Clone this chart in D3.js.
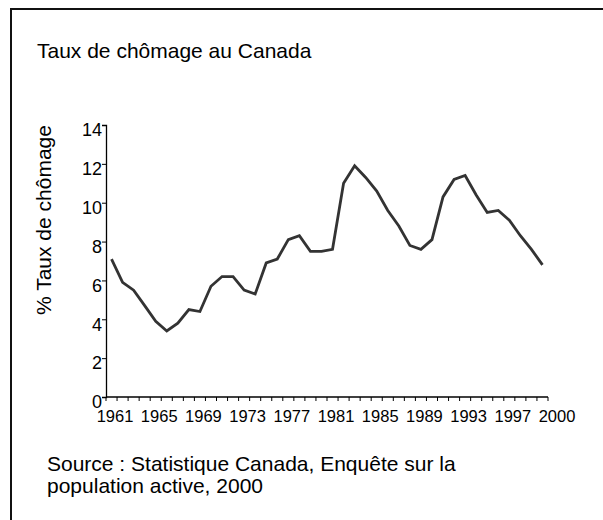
<!DOCTYPE html>
<html>
<head>
<meta charset="utf-8">
<script src="https://cdn.jsdelivr.net/npm/d3@7"></script>
<style>
  body { margin: 0; background: #fff; }
  text { font-family: "Liberation Sans", Arial, sans-serif; fill: #000; }
</style>
</head>
<body>
<script>
// data
var years = d3.range(1961, 2001);
var rates = [7.1, 5.9, 5.5, 4.7, 3.9, 3.4, 3.8, 4.5, 4.4, 5.7,
             6.2, 6.2, 5.5, 5.3, 6.9, 7.1, 8.1, 8.3, 7.5, 7.5,
             7.6, 11.0, 11.9, 11.3, 10.6, 9.6, 8.8, 7.8, 7.6, 8.1,
             10.3, 11.2, 11.4, 10.4, 9.5, 9.6, 9.1, 8.3, 7.6, 6.8];
var y_ticks = [0, 2, 4, 6, 8, 10, 12, 14];
var x_tick_labels = ['1961', '1965', '1969', '1973', '1977', '1981', '1985', '1989', '1993', '1997', '2000'];

var title = 'Taux de chômage au Canada';
var y_title = '% Taux de chômage';
var source_lines = ['Source : Statistique Canada, Enquête sur la', 'population active, 2000'];

var width = 603, height = 520;
var svg = d3.select('body').append('svg').attr('width', width).attr('height', height);

// frame (only top and left edges show in the picture)
svg.append('path').attr('d', 'M11,520 V9 H603')
   .attr('fill', 'none').attr('stroke', '#111').attr('stroke-width', 2);

svg.append('text').attr('x', 37).attr('y', 58).attr('font-size', 21).text(title);

// plot area bounds (not "top": that name is taken by window.top)
var p_left = 106, p_right = 548, p_top = 125, p_bottom = 397;

var x_scale = d3.scaleBand().domain(years).range([p_left, p_right]);
var y_scale = d3.scaleLinear().domain([0, 14]).range([p_bottom, p_top]);

// y axis - labels sit a little under their ticks, as in the picture
var y_axis = svg.append('g').attr('transform', 'translate(' + p_left + ',0)')
   .call(d3.axisLeft(y_scale).tickValues(y_ticks).tickSize(4).tickPadding(0));
y_axis.select('.domain').attr('stroke', '#000').attr('stroke-width', 1.3);
y_axis.selectAll('.tick line').attr('stroke', '#000');
y_axis.selectAll('text').attr('font-size', 18).attr('font-family', '"Liberation Sans", Arial, sans-serif')
   .attr('dy', '0.6em');

// x axis: ticks between every year
var step = x_scale.step();
var x_axis = svg.append('g');
x_axis.append('line').attr('x1', p_left).attr('x2', p_right).attr('y1', p_bottom).attr('y2', p_bottom)
   .attr('stroke', '#000').attr('stroke-width', 1.3);
x_axis.selectAll('line.tk').data(d3.range(years.length + 1)).enter().append('line').attr('class', 'tk')
   .attr('x1', d => p_left + d * step).attr('x2', d => p_left + d * step)
   .attr('y1', p_bottom).attr('y2', p_bottom + 4).attr('stroke', '#000');
x_axis.selectAll('text').data(x_tick_labels).enter().append('text')
   .attr('x', (d, i) => x_scale(1961) + step / 2 + 3.5 + i * 4 * step)
   .attr('y', p_bottom + 25).attr('text-anchor', 'middle').attr('font-size', 16.5)
   .text(d => d);

// y title
svg.append('text').attr('transform', 'translate(51,220) rotate(-90)')
   .attr('text-anchor', 'middle').attr('font-size', 21).text(y_title);

// the line
var line = d3.line()
   .x((d, i) => x_scale(years[i]) + step / 2)
   .y(d => y_scale(d));
svg.append('path').datum(rates).attr('d', line)
   .attr('fill', 'none').attr('stroke', '#333').attr('stroke-width', 2.8)
   .attr('stroke-linejoin', 'miter');

// source note
svg.selectAll('text.src').data(source_lines).enter().append('text').attr('class', 'src')
   .attr('x', 47).attr('y', (d, i) => 471 + i * 22).attr('font-size', 21).text(d => d);
</script>
</body>
</html>
